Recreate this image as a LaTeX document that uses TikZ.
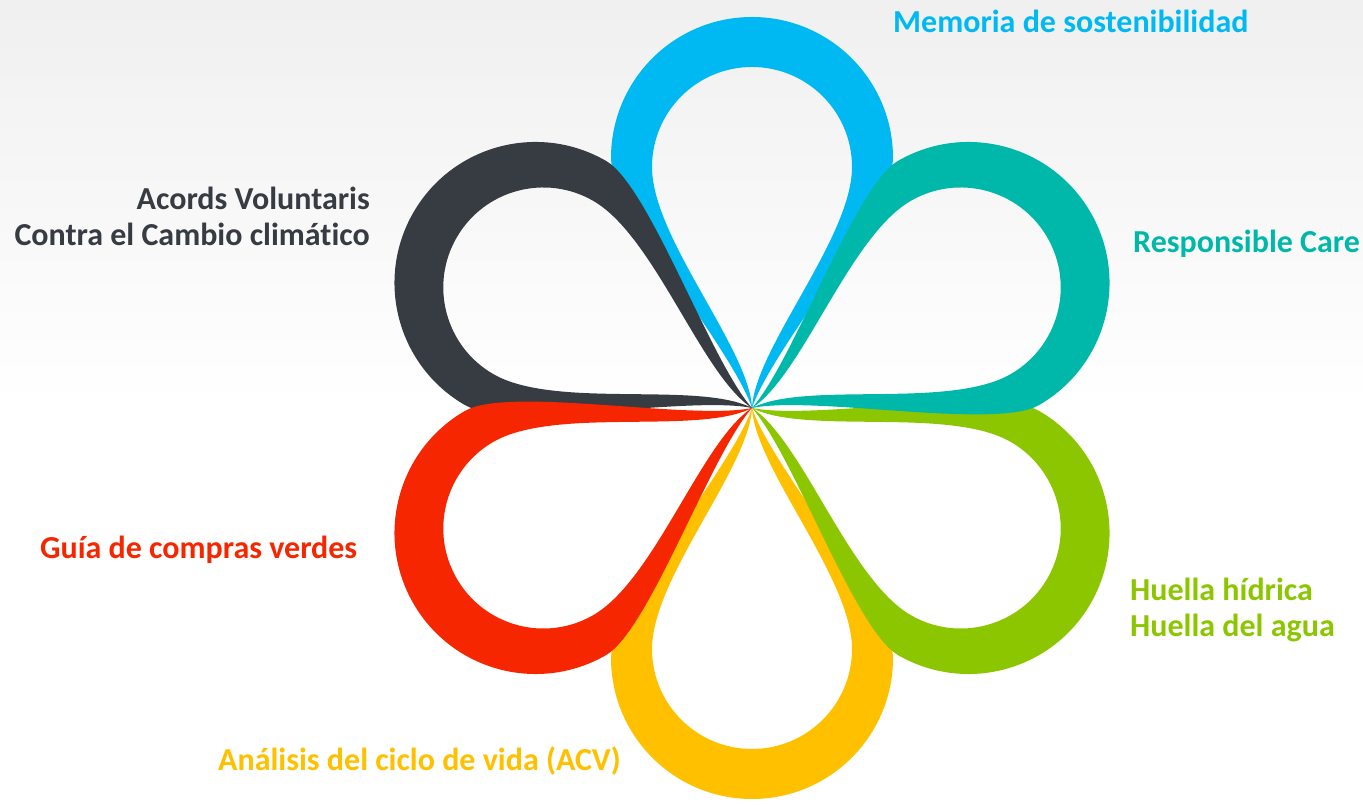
\documentclass[tikz,border=0pt]{standalone}
\usepackage{fontspec}
\setmainfont{Carlito}[Ligatures=NoCommon]
\usetikzlibrary{positioning}

\definecolor{memblue}{RGB}{0,185,242}
\definecolor{careteal}{RGB}{0,184,169}
\definecolor{aguagreen}{RGB}{140,198,0}
\definecolor{acvyellow}{RGB}{255,192,0}
\definecolor{guiared}{RGB}{245,38,0}
\definecolor{acordsdark}{RGB}{55,59,66}

\begin{document}
\begin{tikzpicture}[x=1pt, y=1pt,
    lbl/.style={font=\bfseries\fontsize{32}{36}\selectfont, inner sep=0pt},
    petal/.style={fill=#1, even odd rule}]

  \useasboundingbox (0,0) rectangle (1363,805);
  \fill[top color=gray!12, bottom color=white] (0,400) rectangle (1363,805);

  \coordinate (flower) at (752,397);

  % six loops, bottom ones first
  \foreach \ang/\col in {0/memblue, 180/acvyellow, 60/acordsdark,
                         -120/aguagreen, -60/careteal, 120/guiared}
    \path[petal=\col, shift={(flower)}, rotate=\ang]
      (0,0) .. controls (20,60) and (141,200) .. (141,250)
      arc (0:180:141) .. controls (-141,200) and (-20,60) .. (0,0) -- cycle
      (0,0) .. controls (3,60) and (100,170) .. (100,241)
      arc (0:180:100) .. controls (-100,170) and (-3,60) .. (0,0) -- cycle;

  \node[lbl, text=memblue, anchor=base west] (memoria) at (893,772) {Memoria de sostenibilidad};
  \node[lbl, text=acordsdark, anchor=base east, align=right] (acords) at (370,559)
    {Acords Voluntaris\\Contra el Cambio climático};
  \node[lbl, text=careteal, anchor=base west] (care) at (1133,552) {Responsible Care};
  \node[lbl, text=aguagreen, anchor=base west, align=left] (huella) at (1130,168)
    {Huella hídrica\\Huella del agua};
  \node[lbl, text=guiared, anchor=base west] (guia) at (40,246) {Guía de compras verdes};
  \node[lbl, text=acvyellow, anchor=base west] (acv) at (218,34) {Análisis del ciclo de vida (ACV)};
\end{tikzpicture}
\end{document}
